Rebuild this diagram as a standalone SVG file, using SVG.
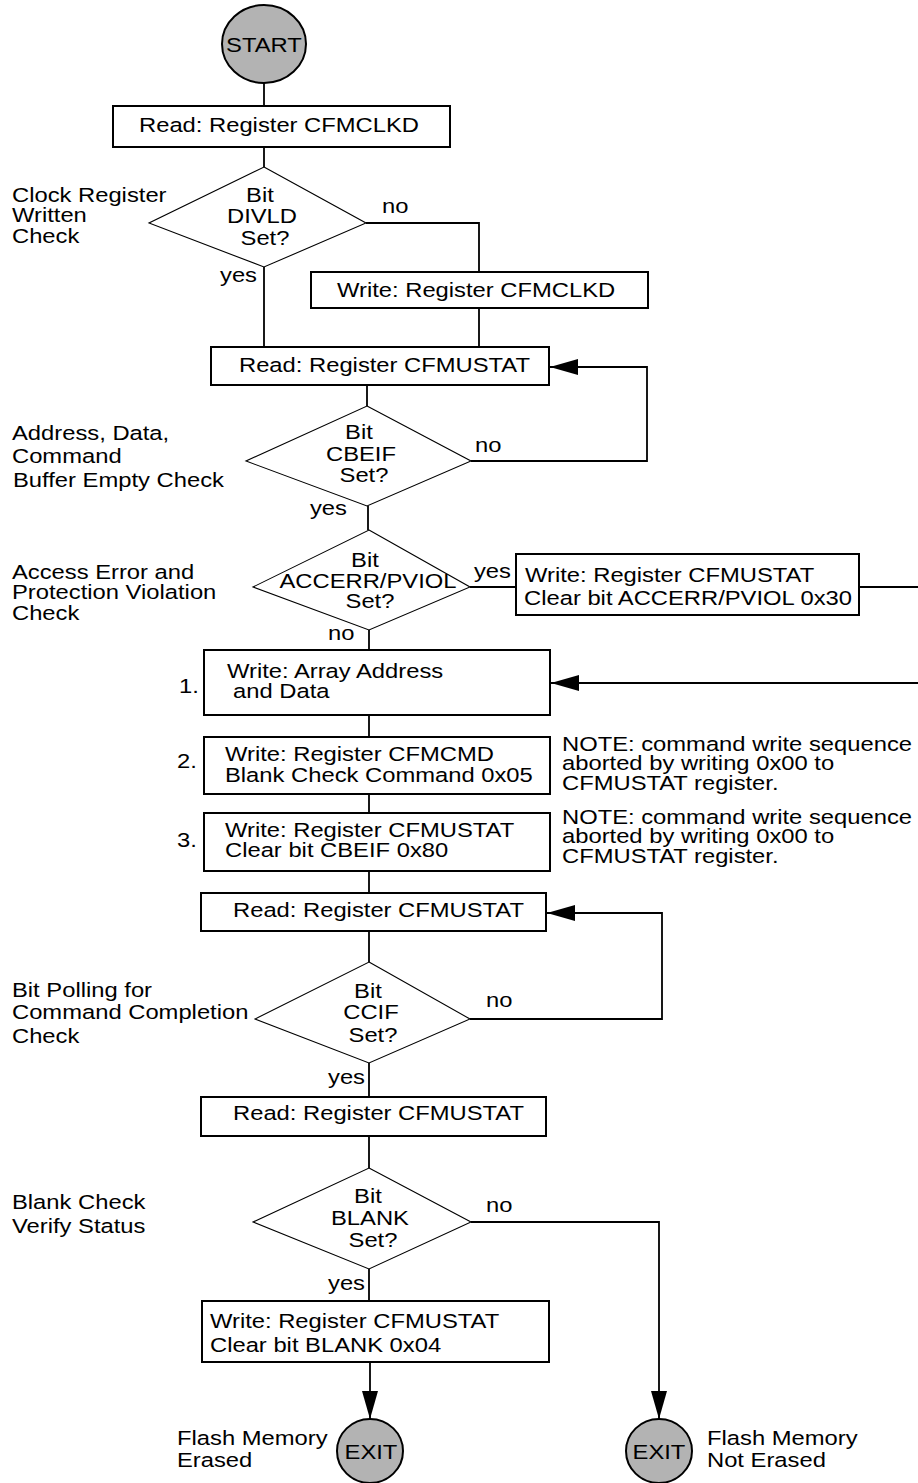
<svg xmlns="http://www.w3.org/2000/svg" width="918" height="1483" viewBox="0 0 918 1483">
<style>
text{font-family:"Liberation Sans",Arial,sans-serif;font-size:20.5px;fill:#000;transform-box:fill-box;transform-origin:0 0;transform:scaleX(1.16)}
text.m{text-anchor:middle;transform-origin:50% 50%}
.box{fill:#fff;stroke:#000;stroke-width:2}
.dia{fill:#fff;stroke:#000;stroke-width:1.1}
.term{fill:#b3b3b3;stroke:#000;stroke-width:2}
.c{fill:none;stroke:#000;stroke-width:1.8}
</style>
<defs>
<marker id="ah" markerWidth="28" markerHeight="16" refX="28" refY="8" orient="auto" markerUnits="userSpaceOnUse">
<path d="M0,0 L28,8 L0,16 Z" fill="#000"/>
</marker>
</defs>
<rect width="918" height="1483" fill="#fff"/>
<g id="connectors">
<path class="c" d="M264,83 V106"/>
<path class="c" d="M264,147 V167"/>
<path class="c" d="M366,223 H479 V272"/>
<path class="c" d="M264,267 V347"/>
<path class="c" d="M479,308 V347"/>
<path class="c" d="M367,385 V406"/>
<path class="c" d="M471,461 H647 V367 H550" marker-end="url(#ah)"/>
<path class="c" d="M368,506 V530"/>
<path class="c" d="M470,587 H516"/>
<path class="c" d="M859,587 H918"/>
<path class="c" d="M918,683 H551" marker-end="url(#ah)"/>
<path class="c" d="M369,630 V650"/>
<path class="c" d="M369,715 V737"/>
<path class="c" d="M369,794 V813"/>
<path class="c" d="M369,871 V893"/>
<path class="c" d="M369,931 V962"/>
<path class="c" d="M470,1019 H662 V913 H547" marker-end="url(#ah)"/>
<path class="c" d="M369,1063 V1097"/>
<path class="c" d="M369,1136 V1168"/>
<path class="c" d="M471,1222 H659 V1419" marker-end="url(#ah)"/>
<path class="c" d="M369,1269 V1301"/>
<path class="c" d="M370,1362 V1419" marker-end="url(#ah)"/>
<text x="382" y="213">no</text>
<text x="220" y="282">yes</text>
<text x="475" y="452">no</text>
<text x="310" y="515">yes</text>
<text x="474" y="578">yes</text>
<text x="328" y="640">no</text>
<text x="486" y="1007">no</text>
<text x="328" y="1084">yes</text>
<text x="486" y="1212">no</text>
<text x="328" y="1290">yes</text>
</g>
<g id="start">
<ellipse class="term" cx="264" cy="44" rx="42" ry="39"/>
<text class="m" x="264" y="52">START</text>
</g>
<g id="read-clkd">
<rect class="box" x="113" y="106" width="337" height="41"/>
<text x="139" y="132">Read: Register CFMCLKD</text>
</g>
<g id="divld">
<polygon class="dia" points="264,167 366,223 264,267 149,223"/>
<text class="m" x="260" y="202">Bit</text>
<text class="m" x="262" y="223">DIVLD</text>
<text class="m" x="265" y="245">Set?</text>
<text x="12" y="202">Clock Register</text>
<text x="12" y="222">Written</text>
<text x="12" y="243">Check</text>
</g>
<g id="write-clkd">
<rect class="box" x="311" y="272" width="337" height="36"/>
<text x="337" y="297">Write: Register CFMCLKD</text>
</g>
<g id="read-ustat1">
<rect class="box" x="211" y="347" width="338" height="38"/>
<text x="239" y="372">Read: Register CFMUSTAT</text>
</g>
<g id="cbeif">
<polygon class="dia" points="367,406 471,461 367,506 246,461"/>
<text class="m" x="359" y="439">Bit</text>
<text class="m" x="361" y="461">CBEIF</text>
<text class="m" x="364" y="482">Set?</text>
<text x="12" y="440">Address, Data,</text>
<text x="12" y="463">Command</text>
<text x="13" y="487">Buffer Empty Check</text>
</g>
<g id="accerr">
<polygon class="dia" points="369,530 470,587 369,630 253,587"/>
<text class="m" x="365" y="567">Bit</text>
<text class="m" x="368" y="588">ACCERR/PVIOL</text>
<text class="m" x="370" y="608">Set?</text>
<text x="12" y="579">Access Error and</text>
<text x="12" y="599">Protection Violation</text>
<text x="12" y="620">Check</text>
</g>
<g id="clear-accerr">
<rect class="box" x="516" y="554" width="343" height="61"/>
<text x="525" y="582">Write: Register CFMUSTAT</text>
<text x="524" y="605">Clear bit ACCERR/PVIOL 0x30</text>
</g>
<g id="step1">
<rect class="box" x="204" y="650" width="346" height="65"/>
<text x="179" y="693">1.</text>
<text x="227" y="678">Write: Array Address</text>
<text x="233" y="698">and Data</text>
</g>
<g id="step2">
<rect class="box" x="204" y="737" width="346" height="57"/>
<text x="177" y="768">2.</text>
<text x="225" y="761">Write: Register CFMCMD</text>
<text x="225" y="782">Blank Check Command 0x05</text>
<text x="562" y="751">NOTE: command write sequence</text>
<text x="562" y="770">aborted by writing 0x00 to</text>
<text x="562" y="790">CFMUSTAT register.</text>
</g>
<g id="step3">
<rect class="box" x="204" y="813" width="346" height="58"/>
<text x="177" y="847">3.</text>
<text x="225" y="837">Write: Register CFMUSTAT</text>
<text x="225" y="857">Clear bit CBEIF 0x80</text>
<text x="562" y="824">NOTE: command write sequence</text>
<text x="562" y="843">aborted by writing 0x00 to</text>
<text x="562" y="863">CFMUSTAT register.</text>
</g>
<g id="read-ustat2">
<rect class="box" x="201" y="893" width="345" height="38"/>
<text x="233" y="917">Read: Register CFMUSTAT</text>
</g>
<g id="ccif">
<polygon class="dia" points="369,962 470,1019 369,1063 255,1019"/>
<text class="m" x="368" y="998">Bit</text>
<text class="m" x="371" y="1019">CCIF</text>
<text class="m" x="373" y="1042">Set?</text>
<text x="12" y="997">Bit Polling for</text>
<text x="12" y="1019">Command Completion</text>
<text x="12" y="1043">Check</text>
</g>
<g id="read-ustat3">
<rect class="box" x="201" y="1097" width="345" height="39"/>
<text x="233" y="1120">Read: Register CFMUSTAT</text>
</g>
<g id="blank">
<polygon class="dia" points="369,1168 471,1222 369,1269 253,1222"/>
<text class="m" x="368" y="1203">Bit</text>
<text class="m" x="370" y="1225">BLANK</text>
<text class="m" x="373" y="1247">Set?</text>
<text x="12" y="1209">Blank Check</text>
<text x="12" y="1233">Verify Status</text>
</g>
<g id="clear-blank">
<rect class="box" x="202" y="1301" width="347" height="61"/>
<text x="210" y="1328">Write: Register CFMUSTAT</text>
<text x="210" y="1352">Clear bit BLANK 0x04</text>
</g>
<g id="exit-erased">
<ellipse class="term" cx="370" cy="1451" rx="33" ry="32"/>
<text class="m" x="371" y="1459">EXIT</text>
<text x="177" y="1445">Flash Memory</text>
<text x="177" y="1467">Erased</text>
</g>
<g id="exit-not-erased">
<ellipse class="term" cx="659" cy="1451" rx="33" ry="32"/>
<text class="m" x="659" y="1459">EXIT</text>
<text x="707" y="1445">Flash Memory</text>
<text x="707" y="1467">Not Erased</text>
</g>
</svg>
